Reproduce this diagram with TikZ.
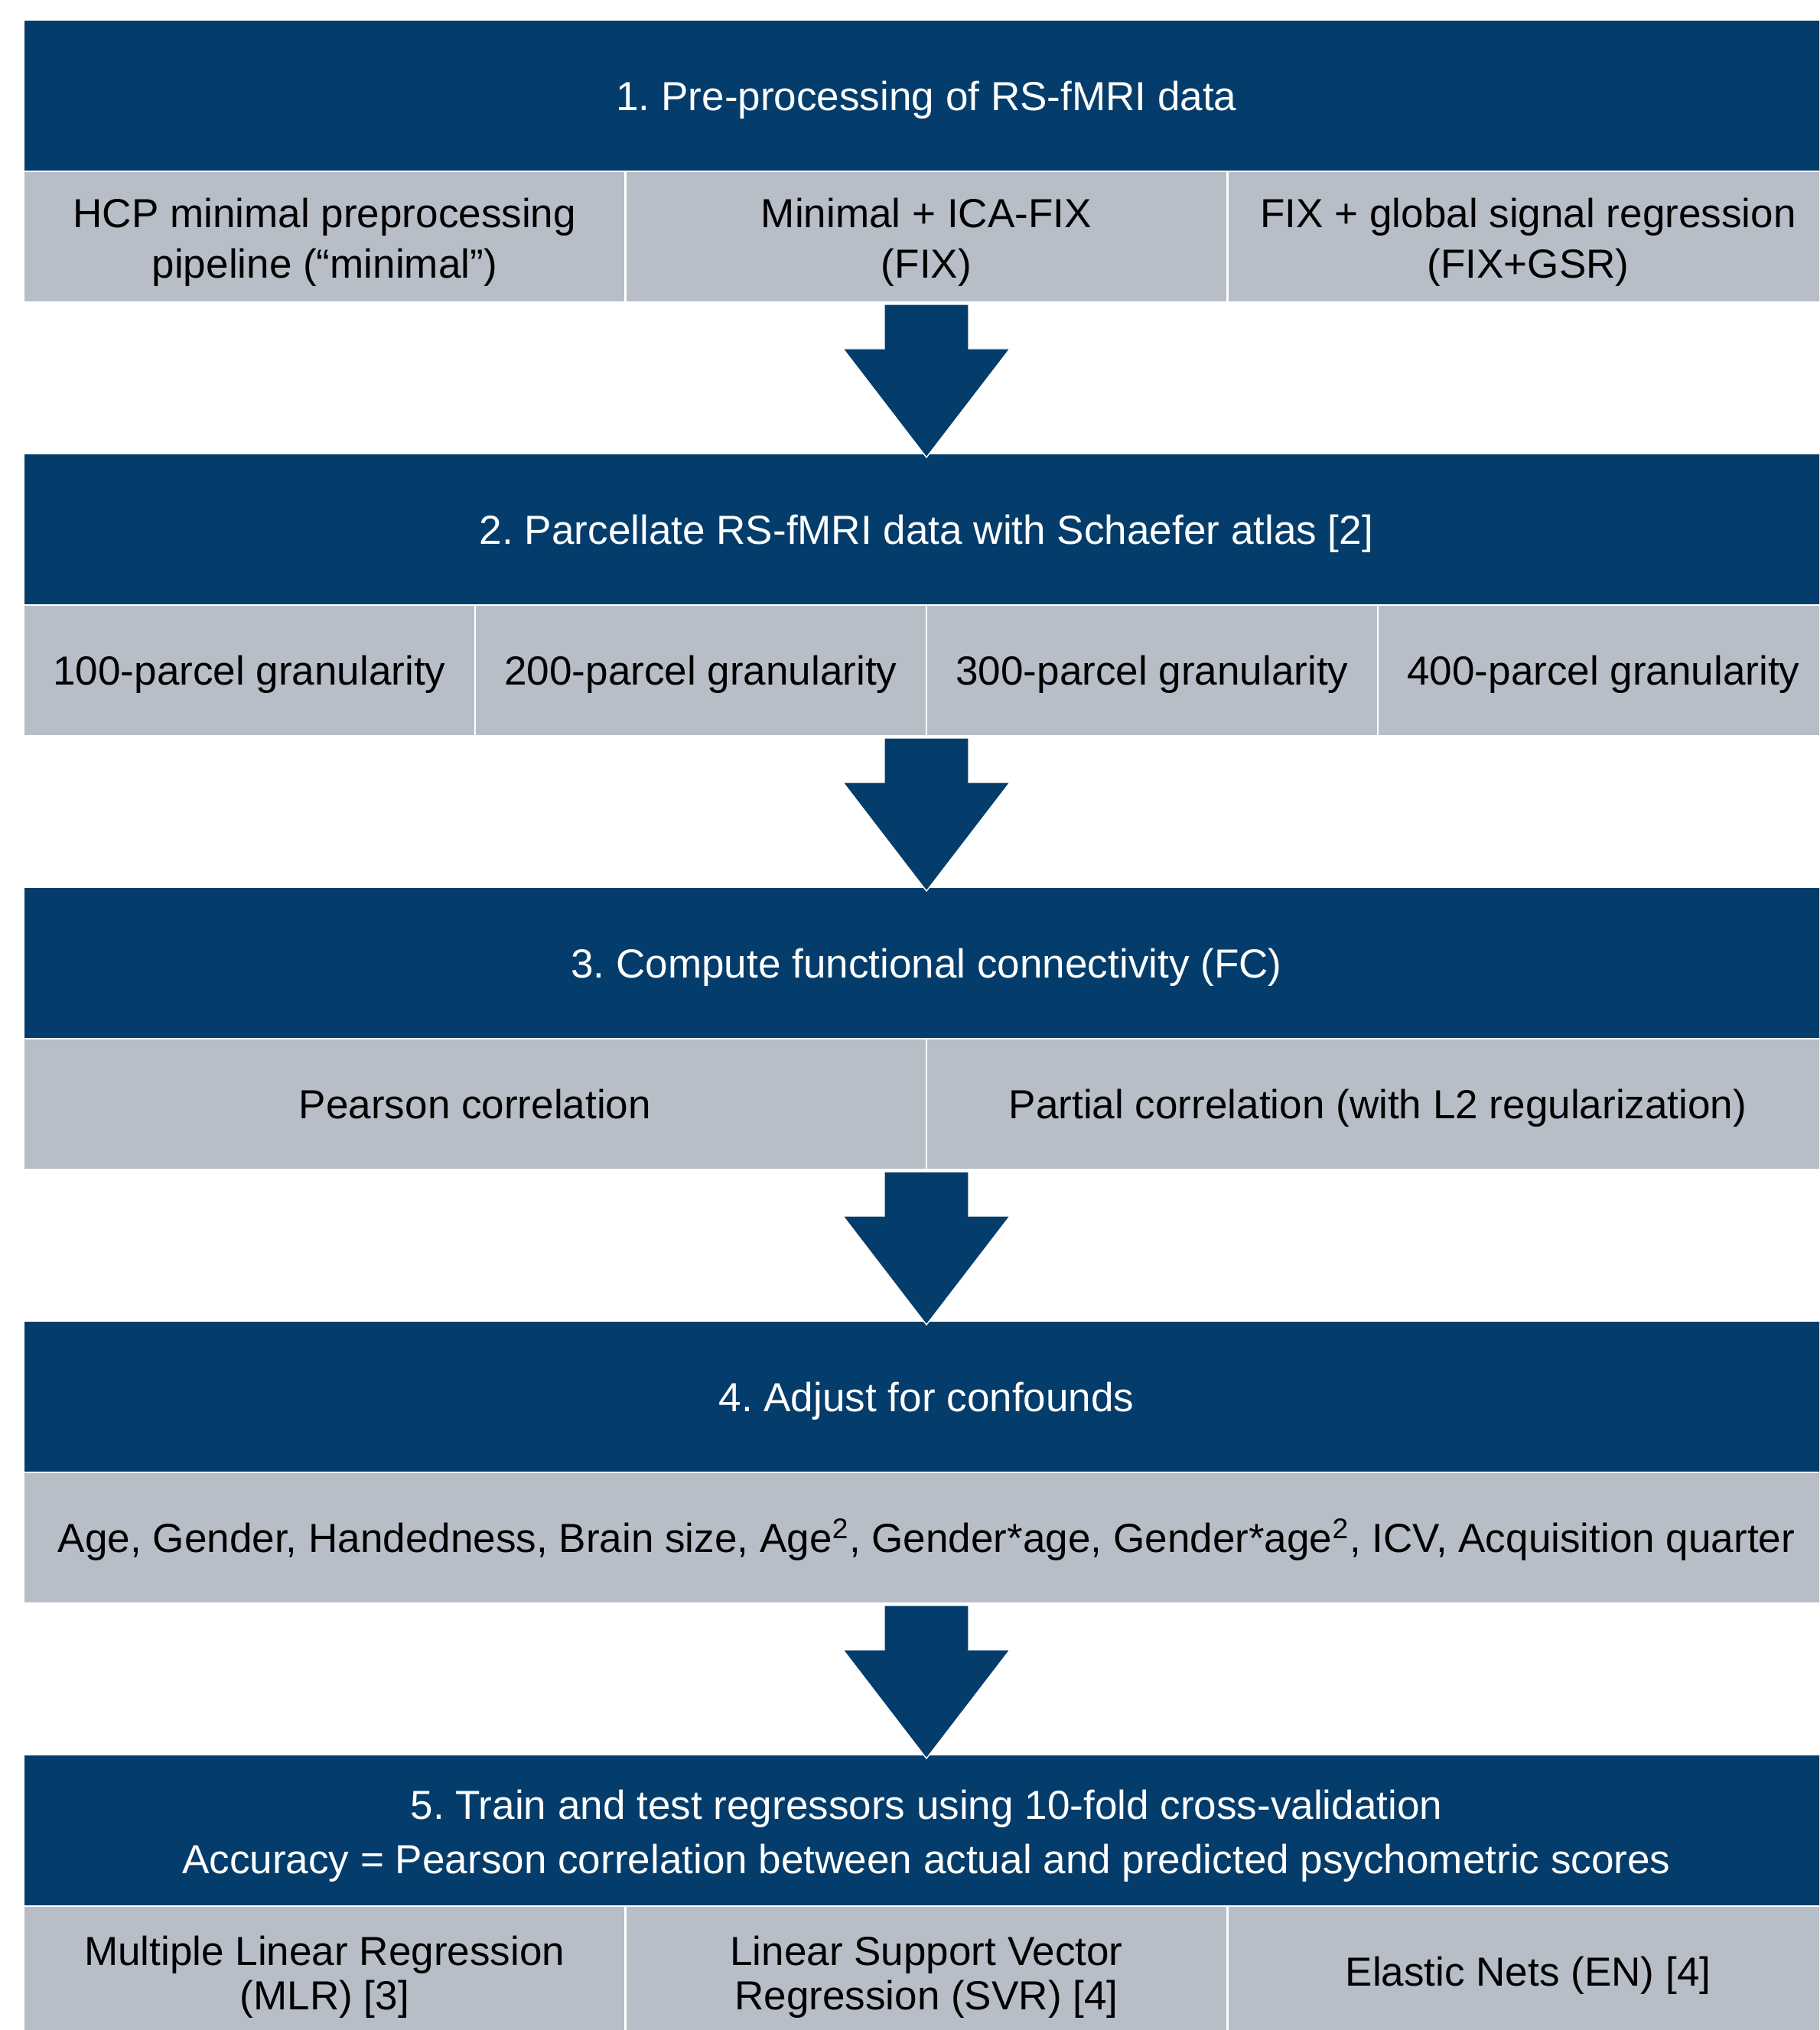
\documentclass[tikz,border=0pt]{standalone}
\usepackage{fontspec}
\setmainfont{Liberation Sans}
\usetikzlibrary{positioning,calc}
\definecolor{headblue}{RGB}{4,61,107}
\definecolor{cellgray}{RGB}{183,190,200}
\newcommand\cellstrut{\rule[-4pt]{0pt}{19pt}}
\newcommand\tallstrut{\rule{0pt}{15.9pt}}
\tikzset{
  head/.style={rectangle, fill=headblue, draw=white, line width=0.8pt, text=white,
    minimum width=23.6cm, minimum height=1.98cm, inner sep=0pt, outer sep=0pt, align=center,
    execute at begin node=\cellstrut, execute at end node=\cellstrut},
  cell/.style={rectangle, fill=cellgray, draw=white, line width=0.8pt, text=black,
    minimum height=1.71cm, inner sep=0pt, outer sep=0pt, align=center,
    execute at begin node=\cellstrut, execute at end node=\cellstrut},
  downarrow/.style={fill=headblue, draw=white, line width=0.4pt}
}
\frenchspacing
\begin{document}
\begin{tikzpicture}[font=\fontsize{15.1}{19}\selectfont]
\useasboundingbox (0,0) rectangle (23.78,-26.54);
\clip (0,0) rectangle (23.78,-26.54);

\node[head] (h1) at (12.11,-1.25) {1. Pre-processing of RS-fMRI data};
\node[cell, minimum width=7.866cm, below right=0cm of h1.south west] (c11) {\tallstrut HCP minimal preprocessing\\pipeline (“minimal”)};
\node[cell, minimum width=7.866cm, right=0cm of c11] (c12) {\tallstrut Minimal + ICA-FIX\\(FIX)};
\node[cell, minimum width=7.866cm, right=0cm of c12] (c13) {\tallstrut FIX + global signal regression\\(FIX+GSR)};

\node[head] (h2) at (12.11,-6.92) {2. Parcellate RS-fMRI data with Schaefer atlas [2]};
\node[cell, minimum width=5.9cm, below right=0cm of h2.south west] (c21) {100-parcel granularity};
\node[cell, minimum width=5.9cm, right=0cm of c21] (c22) {200-parcel granularity};
\node[cell, minimum width=5.9cm, right=0cm of c22] (c23) {300-parcel granularity};
\node[cell, minimum width=5.9cm, right=0cm of c23] (c24) {400-parcel granularity};

\node[head] (h3) at (12.11,-12.59) {3. Compute functional connectivity (FC)};
\node[cell, minimum width=11.8cm, below right=0cm of h3.south west] (c31) {Pearson correlation};
\node[cell, minimum width=11.8cm, right=0cm of c31] (c32) {Partial correlation (with L2 regularization)};

\node[head] (h4) at (12.11,-18.26) {4. Adjust for confounds};
\node[cell, minimum width=23.6cm, below right=0cm of h4.south west] (c41) {Age, Gender, Handedness, Brain size, Age\textsuperscript{2}, Gender*age, Gender*age\textsuperscript{2}, ICV, Acquisition quarter};

\node[head, font=\fontsize{15.1}{20.2}\selectfont] (h5) at (12.11,-23.93) {\tallstrut 5. Train and test regressors using 10-fold cross-validation\\Accuracy = Pearson correlation between actual and predicted psychometric scores};
\node[cell, minimum width=7.866cm, font=\fontsize{15.1}{16.5}\selectfont, below right=0cm of h5.south west] (c51) {\tallstrut Multiple Linear Regression\\(MLR) [3]};
\node[cell, minimum width=7.866cm, font=\fontsize{15.1}{16.5}\selectfont, right=0cm of c51] (c52) {\tallstrut Linear Support Vector\\Regression (SVR) [4]};
\node[cell, minimum width=7.866cm, font=\fontsize{15.1}{16.5}\selectfont, right=0cm of c52] (c53) {Elastic Nets (EN) [4]};

\foreach \i/\j in {1/2,2/3,3/4,4/5}
  \filldraw[downarrow] (h\i |- c\i1.south) ++(-0.55,-0.03) -- ++(1.1,0) -- ++(0,-0.58) -- ++(0.54,0)
    -- ($(h\j.north)+(0,-0.05)$) -- ++(-1.09,1.42) -- ++(0.54,0) -- cycle;
\end{tikzpicture}
\end{document}
